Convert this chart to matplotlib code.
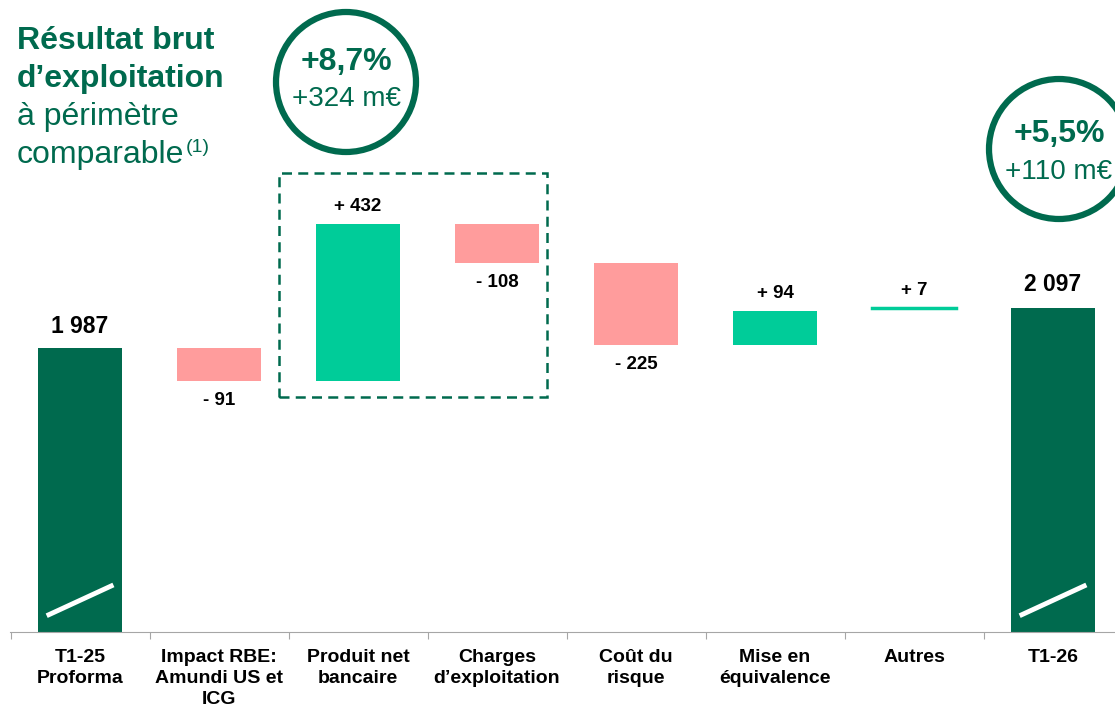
import matplotlib
matplotlib.use("Agg")
import matplotlib.pyplot as plt
import matplotlib.patches as patches

plt.rcParams['font.family'] = ['Liberation Sans', 'DejaVu Sans']

# data
categories = ["T1-25\nProforma", "Impact RBE:\nAmundi US et\nICG", "Produit net\nbancaire",
              "Charges\nd\u2019exploitation", "Co\u00fbt du\nrisque", "Mise en\n\u00e9quivalence",
              "Autres", "T1-26"]
start_value = 1987
deltas = [-91, 432, -108, -225, 94, 7]
end_value = 2097
value_labels = ["1 987", "- 91", "+ 432", "- 108", "- 225", "+ 94", "+ 7", "2 097"]

dark_green = "#006A4E"
up_green = "#00CC99"
down_red = "#FF9C9C"

fig = plt.figure(figsize=(11.15, 7.07), dpi=100)
ax = fig.add_axes([10 / 1115, 1 - 632 / 707, 1105 / 1115, 632 / 707])
ax.set_xlim(-0.504, 7.446)
ax.set_ylim(1202, 1202 + 632 / 0.362)
w = 0.6

# totals (axis broken, so bars start at the bottom of the view)
bottom = ax.get_ylim()[0]
for i, v in [(0, start_value), (7, end_value)]:
    ax.bar(i, v - bottom, bottom=bottom, width=w, color=dark_green, zorder=2)
    ax.plot([i - 0.24, i + 0.24], [bottom + 45, bottom + 130], color="white",
            lw=3.5, solid_capstyle="butt", zorder=3)

running = start_value
for k, d in enumerate(deltas):
    i = k + 1
    col = up_green if d > 0 else down_red
    if abs(d) < 15:
        ax.plot([i - w / 2, i + w / 2], [running + d] * 2, color=col, lw=2.5, zorder=2)
    else:
        ax.bar(i, d, bottom=running, width=w, color=col, zorder=2)
    top = max(running, running + d)
    low = min(running, running + d)
    if d > 0:
        ax.text(i, top + 25, value_labels[i], ha="center", va="bottom",
                fontsize=13.5, fontweight="bold")
    else:
        ax.text(i, low - 30, value_labels[i], ha="center", va="top",
                fontsize=13.5, fontweight="bold")
    running += d

ax.text(0, start_value + 28, value_labels[0], ha="center", va="bottom",
        fontsize=16.5, fontweight="bold")
ax.text(7, running + 35, value_labels[7], ha="center", va="bottom",
        fontsize=16.5, fontweight="bold")

# dashed box around PNB / charges
box = patches.Rectangle((1.43, 1896 - 45), 1.93, 2328 - 1896 + 45 + 143, fill=False,
                        ls=(0, (4, 2.5)), lw=1.8, edgecolor=dark_green, zorder=1)
ax.add_patch(box)

# axis styling
for s in ["top", "right", "left"]:
    ax.spines[s].set_visible(False)
ax.spines["bottom"].set_color("#A6A6A6")
ax.set_yticks([])
ax.set_xticks([i + 0.5 for i in range(-1, 7)])
ax.set_xticklabels([])
ax.tick_params(axis="x", length=5, color="#A6A6A6", direction="out")
for i, c in enumerate(categories):
    ax.text(i, 1202 - 47, c, ha="center", va="top", fontsize=14,
            fontweight="bold", linespacing=1.3)

# title
title_lines = [("R\u00e9sultat brut", "bold", 49), ("d\u2019exploitation", "bold", 87),
               ("\u00e0 p\u00e9rim\u00e8tre", "normal", 125), ("comparable", "normal", 163)]
for txt, wt, yb in title_lines:
    fig.text(17 / 1115, 1 - yb / 707, txt, ha="left", va="baseline",
             fontsize=23, fontweight=wt, color=dark_green)
fig.text(186 / 1115, 1 - 152 / 707, "(1)", ha="left", va="baseline", fontsize=14,
         color=dark_green)

# circles
circles = [(346, 82, 62, 99, "+8,7%", "+324 m\u20ac"),
           (1059, 149, 134, 172, "+5,5%", "+110 m\u20ac")]
for cx, cy, y_big, y_small, big, small in circles:
    circ = patches.Ellipse((cx / 1115, 1 - cy / 707), 140 / 1115, 140 / 707,
                           transform=fig.transFigure, fill=False, lw=4.5,
                           edgecolor=dark_green)
    fig.patches.append(circ)
    fig.text(cx / 1115, 1 - y_big / 707, big, ha="center", va="center",
             fontsize=23, fontweight="bold", color=dark_green)
    fig.text(cx / 1115, 1 - y_small / 707, small, ha="center", va="center",
             fontsize=20, color=dark_green)

fig.savefig("out.png", dpi=100)
